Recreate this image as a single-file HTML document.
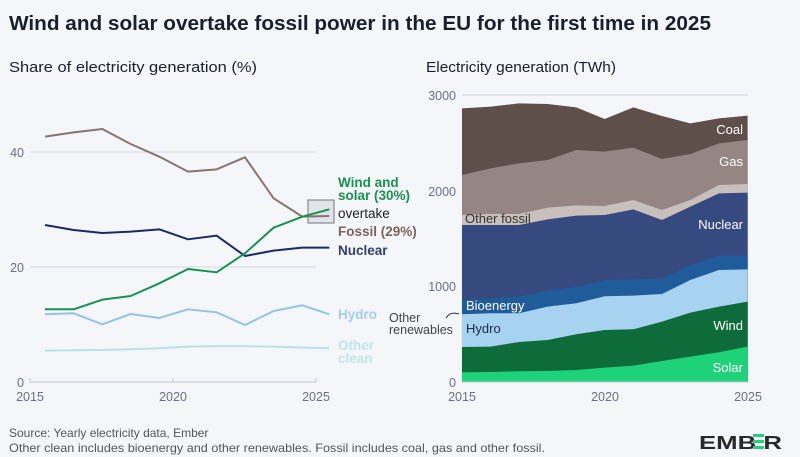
<!DOCTYPE html>
<html><head><meta charset="utf-8"><style>
html,body{margin:0;padding:0;background:#f5f6fa;}
svg{display:block;font-family:"Liberation Sans",sans-serif;}
</style></head><body>
<svg width="800" height="457" viewBox="0 0 800 457">
<rect width="800" height="457" fill="#f5f6fa"/>
<text x="9" y="30" font-size="20" font-weight="bold" fill="#1a1f2e" textLength="702" lengthAdjust="spacingAndGlyphs">Wind and solar overtake fossil power in the EU for the first time in 2025</text>
<text x="9" y="72" font-size="15" fill="#1a1f2e" textLength="248" lengthAdjust="spacingAndGlyphs">Share of electricity generation (%)</text>
<text x="426" y="72" font-size="15" fill="#1a1f2e" textLength="190" lengthAdjust="spacingAndGlyphs">Electricity generation (TWh)</text>

<g font-size="12.5" fill="#6b7080">
<line x1="30" y1="152" x2="316" y2="152" stroke="#d2d5df" stroke-width="1"/>
<line x1="30" y1="267" x2="316" y2="267" stroke="#d2d5df" stroke-width="1"/>
<line x1="30" y1="382" x2="316" y2="382" stroke="#c4c7d1" stroke-width="1"/>
<line x1="30" y1="378" x2="30" y2="382" stroke="#c4c7d1"/><line x1="173" y1="378" x2="173" y2="382" stroke="#c4c7d1"/><line x1="316" y1="378" x2="316" y2="382" stroke="#c4c7d1"/>
<text x="24" y="157" text-anchor="end">40</text>
<text x="24" y="272" text-anchor="end">20</text>
<text x="24" y="387" text-anchor="end">0</text>
<text x="30" y="401" text-anchor="middle">2015</text>
<text x="173" y="401" text-anchor="middle">2020</text>
<text x="316" y="401" text-anchor="middle">2025</text>
</g>
<rect x="308" y="200" width="26" height="23" fill="#e2e4ea" stroke="#777" stroke-width="1"/>
<g transform="translate(0,80) scale(0.3333)" fill="none" stroke-width="6" stroke-linejoin="round">
<polyline stroke="#b7e3e6" points="135,812 221,811 307,810 392,808 478,805 564,800 650,799 735,799 821,800 907,803 988,805"/>
<polyline stroke="#92c4e6" points="135,703 221,700 307,733 392,702 478,714 564,688 650,697 735,735 821,693 907,676 988,703"/>
<polyline stroke="#8a7470" points="135,170 221,157 307,147 392,192 478,230 564,275 650,268 735,232 821,355 907,410 988,408"/>
<polyline stroke="#1a2a66" points="135,435 221,450 307,459 392,455 478,448 564,478 650,467 735,528 821,512 907,503 988,503"/>
<polyline stroke="#16924f" points="135,688 221,688 307,659 392,648 478,610 564,567 650,577 735,520 821,443 907,410 988,388"/>
</g>
<g font-size="13.5" font-weight="bold">
<text x="338" y="187" fill="#16924f">Wind and</text>
<text x="338" y="200" fill="#16924f">solar (30%)</text>
<text x="338" y="218" fill="#222" font-weight="normal">overtake</text>
<text x="338" y="236" fill="#7b6460">Fossil (29%)</text>
<text x="338" y="255" fill="#2f3f72">Nuclear</text>
<text x="338" y="319" fill="#a5cdee">Hydro</text>
<text x="338" y="350" fill="#bfe6e8">Other</text>
<text x="338" y="363" fill="#bfe6e8">clean</text>
</g>

<g transform="translate(400,80) scale(0.3333)" stroke="none">
<polygon fill="#5f4f4a" points="186,85 272,80 357,70 443,72 529,82 614,117 700,82 786,108 871,130 957,115 1043,107 1043,905 186,905"/>
<polygon fill="#968683" points="186,285 272,265 357,250 443,240 529,210 614,215 700,203 786,237 871,222 957,190 1043,180 1043,905 186,905"/>
<polygon fill="#c9c0be" points="186,405 272,402 357,402 443,383 529,376 614,378 700,360 786,390 871,360 957,315 1043,312 1043,905 186,905"/>
<polygon fill="#364a80" points="186,435 272,435 357,435 443,418 529,407 614,405 700,388 786,420 871,380 957,340 1043,338 1043,905 186,905"/>
<polygon fill="#1f5c99" points="186,660 272,655 357,650 443,632 529,620 614,600 700,598 786,595 871,555 957,527 1043,527 1043,905 186,905"/>
<polygon fill="#a7d3f0" points="186,703 272,700 357,700 443,680 529,670 614,649 700,647 786,642 871,600 957,570 1043,568 1043,905 186,905"/>
<polygon fill="#0e6b3a" points="186,801 272,800 357,786 443,780 529,763 614,750 700,748 786,725 871,698 957,680 1043,665 1043,905 186,905"/>
<polygon fill="#1ed27a" points="186,877 272,876 357,874 443,873 529,870 614,863 700,857 786,843 871,830 957,817 1043,800 1043,905 186,905"/>
</g>
<line x1="462" y1="95" x2="748" y2="95" stroke="#d2d5df"/>
<line x1="462" y1="382" x2="748" y2="382" stroke="#c4c7d1"/>
<g font-size="12.5" fill="#6b7080">
<text x="456" y="100" text-anchor="end">3000</text>
<text x="456" y="196" text-anchor="end">2000</text>
<text x="456" y="291" text-anchor="end">1000</text>
<text x="456" y="387" text-anchor="end">0</text>
<text x="462" y="401" text-anchor="middle">2015</text>
<text x="605" y="401" text-anchor="middle">2020</text>
<text x="748" y="401" text-anchor="middle">2025</text>
</g>
<g font-size="13" fill="#fff">
<text x="743" y="134" text-anchor="end">Coal</text>
<text x="743" y="166" text-anchor="end">Gas</text>
<text x="465" y="223" fill="#333">Other fossil</text>
<text x="743" y="229" text-anchor="end">Nuclear</text>
<text x="466" y="310">Bioenergy</text>
<text x="466" y="333" fill="#1a2a4a">Hydro</text>
<text x="743" y="330" text-anchor="end">Wind</text>
<text x="743" y="372" text-anchor="end">Solar</text>
</g>
<text x="389" y="322" font-size="12.5" fill="#444">Other</text>
<text x="389" y="334" font-size="12.5" fill="#444">renewables</text>
<path d="M446,318 Q450,311 459,314" fill="none" stroke="#333" stroke-width="1"/>

<text x="9" y="437" font-size="12" fill="#555">Source: Yearly electricity data, Ember</text>
<text x="9" y="452" font-size="12" fill="#555" textLength="536" lengthAdjust="spacingAndGlyphs">Other clean includes bioenergy and other renewables. Fossil includes coal, gas and other fossil.</text>
<g font-size="18" font-weight="bold" fill="#2a2a2a">
<text x="699" y="449" textLength="83" lengthAdjust="spacingAndGlyphs">EMB  R</text>
</g>
<rect x="753" y="434" width="11" height="3" fill="#1ed27a"/>
<rect x="753" y="440" width="11" height="3" fill="#1ed27a"/>
<rect x="753" y="446" width="11" height="3" fill="#1ed27a"/>
</svg>
</body></html>
